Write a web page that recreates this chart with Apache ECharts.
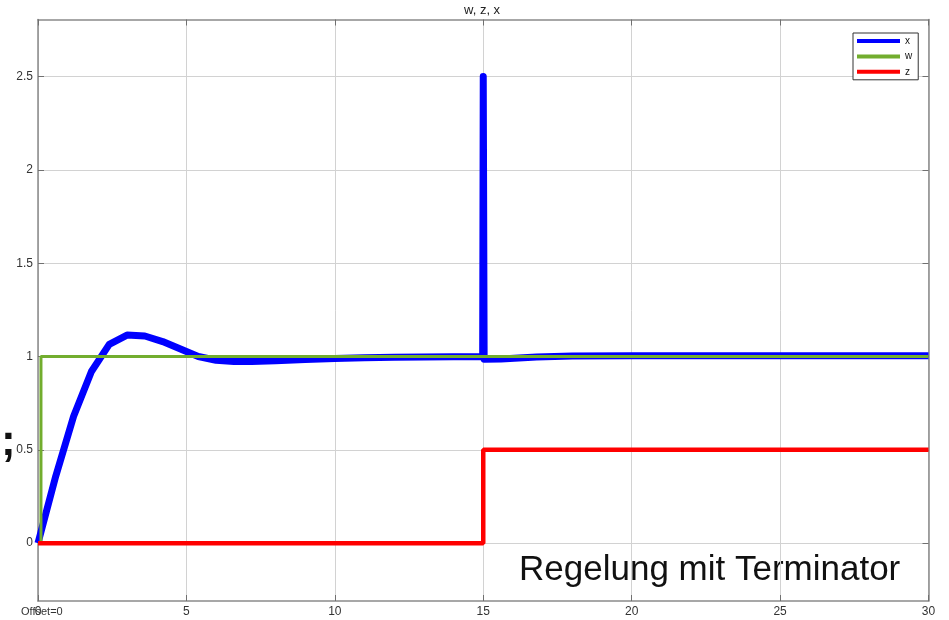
<!DOCTYPE html>
<html>
<head>
<meta charset="utf-8">
<script src="https://cdn.jsdelivr.net/npm/echarts@6.0.0/dist/echarts.min.js"></script>
<style>
html,body{margin:0;padding:0;background:#fff;}
#chart{width:949px;height:620px;}
</style>
</head>
<body>
<div id="chart"></div>
<script>
// ---- data ----
var xTime   = [0, 0.6, 1.2, 1.8, 2.4, 3.0, 3.6, 4.2, 4.8, 5.4, 6.0, 6.6, 7.2, 8, 9, 10, 11, 12, 13, 14, 14.98, 15.0, 15.03, 15.6, 16.2, 16.8, 17.4, 18, 20, 25, 30];
var xValues = [0, 0.36, 0.68, 0.92, 1.065, 1.115, 1.11, 1.08, 1.04, 1.0, 0.98, 0.974, 0.974, 0.978, 0.984, 0.989, 0.993, 0.996, 0.998, 0.999, 0.999, 2.5, 0.985, 0.987, 0.992, 0.997, 1.0, 1.003, 1.004, 1.004, 1.004];
var wTime   = [0, 0.1, 0.1, 30];
var wValues = [0, 0, 1, 1];
var zTime   = [0, 15, 15, 30];
var zValues = [0, 0, 0.5, 0.5];
var xTicks  = [0, 5, 10, 15, 20, 25, 30];
var yTicks  = [0, 0.5, 1, 1.5, 2, 2.5];
var seriesNames = ['x', 'w', 'z'];

function pairs(t, v) { return t.map(function (ti, i) { return [ti, v[i]]; }); }

var FONT = "'Liberation Sans', Arial, sans-serif";
var chart = echarts.init(document.getElementById('chart'), null, {renderer: 'canvas'});

var frameLine = {show: true, onZero: false, lineStyle: {color: '#8a8a8a', width: 1.5}};
var tickIn = {show: true, inside: true, length: 6, lineStyle: {color: '#707070', width: 1}};
var gridLine = {show: true, lineStyle: {color: '#d2d2d2', width: 1}};

var option = {
  animation: false,
  backgroundColor: '#ffffff',
  title: {
    text: 'w, z, x',
    left: 464, top: 3,
    padding: 0,
    textStyle: {fontSize: 13, fontWeight: 'normal', color: '#222', fontFamily: FONT, lineHeight: 14}
  },
  grid: {left: 38, right: 20.5, top: 19.5, bottom: 19, containLabel: false},
  legend: {
    orient: 'vertical',
    left: 853, top: 33,
    data: seriesNames.map(function (n) { return {name: n, icon: 'rect'}; }),
    itemWidth: 43, itemHeight: 4, itemGap: 3.4,
    padding: [2, 6, 2, 4],
    backgroundColor: '#fff',
    borderColor: '#333', borderWidth: 1, borderRadius: 0,
    textStyle: {fontSize: 10, color: '#111', fontFamily: FONT, lineHeight: 12}
  },
  xAxis: [{
    type: 'value', min: xTicks[0], max: xTicks[xTicks.length - 1], interval: 5,
    position: 'bottom',
    axisLine: frameLine, axisTick: tickIn, splitLine: gridLine,
    axisLabel: {fontSize: 12, color: '#333', margin: 5, fontFamily: FONT}
  }, {
    type: 'value', min: xTicks[0], max: xTicks[xTicks.length - 1], interval: 5,
    position: 'top',
    axisLine: frameLine, axisTick: tickIn, splitLine: {show: false},
    axisLabel: {show: false}
  }],
  yAxis: [{
    type: 'value', min: -0.31, max: 2.806,
    position: 'left',
    axisLine: frameLine,
    axisTick: Object.assign({customValues: yTicks}, tickIn),
    splitLine: gridLine,
    axisLabel: {customValues: yTicks, fontSize: 12, color: '#333', margin: 5, fontFamily: FONT}
  }, {
    type: 'value', min: -0.31, max: 2.806,
    position: 'right',
    axisLine: frameLine,
    axisTick: Object.assign({customValues: yTicks}, tickIn),
    splitLine: {show: false},
    axisLabel: {show: false}
  }],
  series: [{
    name: 'x', type: 'line', xAxisIndex: 0, yAxisIndex: 0,
    data: pairs(xTime, xValues),
    showSymbol: false, color: '#0000ff',
    lineStyle: {color: '#0000ff', width: 7, cap: 'butt', join: 'round'}
  }, {
    name: 'w', type: 'line', xAxisIndex: 0, yAxisIndex: 0,
    data: pairs(wTime, wValues),
    showSymbol: false, color: '#72ad2e',
    lineStyle: {color: '#72ad2e', width: 3}
  }, {
    name: 'z', type: 'line', xAxisIndex: 0, yAxisIndex: 0,
    data: pairs(zTime, zValues),
    showSymbol: false, color: '#ff0000',
    lineStyle: {color: '#ff0000', width: 4.5}
  }],
  graphic: [{
    type: 'text', left: 519, top: 553,
    style: {text: 'Regelung mit Terminator', font: '35px ' + FONT, fill: '#111'}
  }, {
    type: 'text', left: 1, top: 421,
    style: {text: ';', font: 'bold 44px ' + FONT, fill: '#111'}
  }, {
    type: 'text', left: 21, top: 606,
    style: {text: 'Offset=0', font: '11px ' + FONT, fill: '#333'}
  }]
};
chart.setOption(option);
</script>
</body>
</html>
